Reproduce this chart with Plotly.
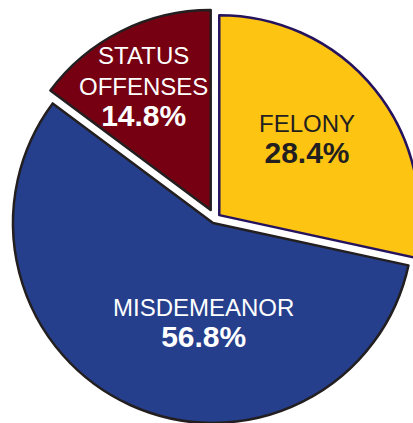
import plotly.graph_objects as go

categories = ["FELONY", "MISDEMEANOR", "STATUS<br>OFFENSES"]
values = [28.4, 56.8, 14.8]
pct_labels = ["28.4%", "56.8%", "14.8%"]
colors = ["#FEC412", "#263F8D", "#760012"]
border_colors = ["#26135E", "#231F20", "#231F20"]
text_colors = ["#231F20", "#FFFFFF", "#FFFFFF"]
pulls = [0.0275, 0.024, 0.048]

W, H = 430, 440
# label centres in page pixels
label_px = [(307, 140), (203, 323), (143, 87)]

fig = go.Figure(go.Pie(
    labels=[c.replace("<br>", " ") for c in categories],
    values=values,
    textinfo="none",
    sort=False,
    direction="clockwise",
    rotation=0,
    pull=pulls,
    marker=dict(colors=colors, line=dict(color=border_colors, width=2.5)),
    domain=dict(x=[0, 1], y=[0.02682, 0.97955]),
    hoverinfo="label+percent",
))

for c, p, col, (px, py) in zip(categories, pct_labels, text_colors, label_px):
    fig.add_annotation(
        x=px / W, y=1 - py / H, xref="paper", yref="paper",
        xanchor="center", yanchor="middle",
        text=f"{c}<br><b><span style='font-size:30px'>{p}</span></b>",
        showarrow=False,
        font=dict(family="Liberation Sans, Arial, sans-serif", size=24, color=col),
        align="center",
    )

fig.update_layout(
    width=W, height=H,
    margin=dict(l=0, r=0, t=0, b=0),
    showlegend=False,
    paper_bgcolor="white",
    plot_bgcolor="white",
)

fig.write_html(
    "out.html",
    config={"displayModeBar": False},
    post_script="document.body.style.margin='0';document.body.style.overflow='hidden';document.documentElement.style.overflow='hidden';",
)
